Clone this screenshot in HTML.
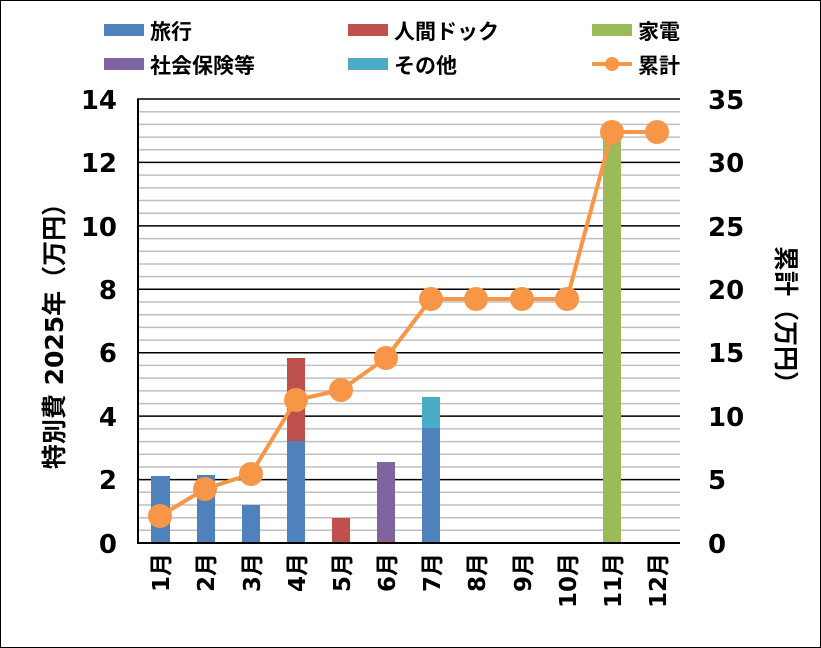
<!DOCTYPE html>
<html><head><meta charset="utf-8"><style>
body{margin:0;background:#fff}
svg{display:block}
text{font-family:"DejaVu Sans","Noto Sans CJK JP",sans-serif;font-weight:bold;fill:#000}
</style></head><body>
<svg width="821" height="648" viewBox="0 0 821 648" xmlns="http://www.w3.org/2000/svg">
<rect x="0.5" y="0.5" width="820" height="647" fill="#fff" stroke="#000"/>
<g stroke="#bfbfbf" stroke-width="1.5">
<line x1="137" x2="680" y1="111.7" y2="111.7"/><line x1="137" x2="680" y1="124.4" y2="124.4"/><line x1="137" x2="680" y1="137.1" y2="137.1"/><line x1="137" x2="680" y1="149.7" y2="149.7"/>
<line x1="137" x2="680" y1="175.1" y2="175.1"/><line x1="137" x2="680" y1="187.9" y2="187.9"/><line x1="137" x2="680" y1="200.5" y2="200.5"/><line x1="137" x2="680" y1="213.2" y2="213.2"/>
<line x1="137" x2="680" y1="238.6" y2="238.6"/><line x1="137" x2="680" y1="251.3" y2="251.3"/><line x1="137" x2="680" y1="264" y2="264"/><line x1="137" x2="680" y1="276.6" y2="276.6"/>
<line x1="137" x2="680" y1="302" y2="302"/><line x1="137" x2="680" y1="314.7" y2="314.7"/><line x1="137" x2="680" y1="327.4" y2="327.4"/><line x1="137" x2="680" y1="340.1" y2="340.1"/>
<line x1="137" x2="680" y1="365.4" y2="365.4"/><line x1="137" x2="680" y1="378.1" y2="378.1"/><line x1="137" x2="680" y1="390.9" y2="390.9"/><line x1="137" x2="680" y1="403.6" y2="403.6"/>
<line x1="137" x2="680" y1="428.9" y2="428.9"/><line x1="137" x2="680" y1="441.6" y2="441.6"/><line x1="137" x2="680" y1="454.3" y2="454.3"/><line x1="137" x2="680" y1="467" y2="467"/>
<line x1="137" x2="680" y1="492.3" y2="492.3"/><line x1="137" x2="680" y1="505" y2="505"/><line x1="137" x2="680" y1="517.7" y2="517.7"/><line x1="137" x2="680" y1="530.3" y2="530.3"/>
</g>
<g stroke="#000" stroke-width="1.5">
<line x1="137" x2="680" y1="99" y2="99"/><line x1="137" x2="680" y1="162.4" y2="162.4"/><line x1="137" x2="680" y1="225.9" y2="225.9"/><line x1="137" x2="680" y1="289.3" y2="289.3"/><line x1="137" x2="680" y1="352.7" y2="352.7"/><line x1="137" x2="680" y1="416.1" y2="416.1"/><line x1="137" x2="680" y1="479.6" y2="479.6"/>
</g>
<rect x="151" y="476" width="19" height="67" fill="#4F81BD"/>
<rect x="197" y="475" width="18" height="68" fill="#4F81BD"/>
<rect x="242" y="505" width="18" height="38" fill="#4F81BD"/>
<rect x="287" y="441" width="18" height="102" fill="#4F81BD"/>
<rect x="287" y="358" width="18" height="83" fill="#C0504D"/>
<rect x="332" y="518" width="18" height="25" fill="#C0504D"/>
<rect x="377" y="541" width="18" height="2" fill="#C0504D"/>
<rect x="377" y="462" width="18" height="79" fill="#8064A2"/>
<rect x="422" y="428" width="18" height="115" fill="#4F81BD"/>
<rect x="422" y="397" width="18" height="31" fill="#4BACC6"/>
<rect x="603" y="131" width="18" height="412" fill="#9BBB59"/>
<line x1="137" x2="680" y1="543" y2="543" stroke="#000" stroke-width="2"/>
<line x1="138" x2="138" y1="99" y2="543" stroke="#000" stroke-width="2"/>
<polyline fill="none" stroke="#F79646" stroke-width="4" points="160,516 205,489 251,474 296,400 341,390 386,358 431,299 476,299 522,299 567,299 612,132 657,132"/>
<g fill="#F79646">
<circle cx="160" cy="516" r="12"/><circle cx="205" cy="489" r="12"/><circle cx="251" cy="474" r="12"/><circle cx="296" cy="400" r="12"/><circle cx="341" cy="390" r="12"/><circle cx="386" cy="358" r="12"/><circle cx="431" cy="299" r="12"/><circle cx="476" cy="299" r="12"/><circle cx="522" cy="299" r="12"/><circle cx="567" cy="299" r="12"/><circle cx="612" cy="132" r="12"/><circle cx="657" cy="132" r="12"/>
</g>
<g font-size="26" text-anchor="end">
<text x="117" y="109">14</text><text x="117" y="172">12</text><text x="117" y="236">10</text><text x="117" y="299">8</text><text x="117" y="362">6</text><text x="117" y="426">4</text><text x="117" y="489">2</text><text x="117" y="553">0</text>
</g>
<g font-size="26" text-anchor="start">
<text x="708" y="109">35</text><text x="708" y="172">30</text><text x="708" y="236">25</text><text x="708" y="299">20</text><text x="708" y="362">15</text><text x="708" y="426">10</text><text x="708" y="489">5</text><text x="708" y="553">0</text>
</g>
<text transform="translate(63,330) rotate(-90)" font-size="25" text-anchor="middle">特別費 2025年（万円）</text>
<text transform="translate(777,321) rotate(90)" font-size="25" text-anchor="middle">累計（万円）</text>
<g font-size="23" text-anchor="end">
<text transform="translate(169,553) rotate(-90)">1月</text>
<text transform="translate(214,553) rotate(-90)">2月</text>
<text transform="translate(260,553) rotate(-90)">3月</text>
<text transform="translate(305,553) rotate(-90)">4月</text>
<text transform="translate(350,553) rotate(-90)">5月</text>
<text transform="translate(395,553) rotate(-90)">6月</text>
<text transform="translate(440,553) rotate(-90)">7月</text>
<text transform="translate(485,553) rotate(-90)">8月</text>
<text transform="translate(531,553) rotate(-90)">9月</text>
<text transform="translate(576,553) rotate(-90)">10月</text>
<text transform="translate(621,553) rotate(-90)">11月</text>
<text transform="translate(666,553) rotate(-90)">12月</text>
</g>
<rect x="104" y="24" width="40" height="12" fill="#4F81BD"/><text x="150" y="39" font-size="21">旅行</text>
<rect x="348" y="24" width="40" height="12" fill="#C0504D"/><text x="394" y="39" font-size="21">人間ドック</text>
<rect x="592" y="24" width="40" height="12" fill="#9BBB59"/><text x="638" y="39" font-size="21">家電</text>
<rect x="104" y="58" width="40" height="12" fill="#8064A2"/><text x="150" y="73" font-size="21">社会保険等</text>
<rect x="348" y="58" width="40" height="12" fill="#4BACC6"/><text x="394" y="73" font-size="21">その他</text>
<line x1="592" x2="632" y1="64" y2="64" stroke="#F79646" stroke-width="4"/><circle cx="612" cy="64" r="7" fill="#F79646"/><text x="638" y="73" font-size="21">累計</text>
</svg>
</body></html>
